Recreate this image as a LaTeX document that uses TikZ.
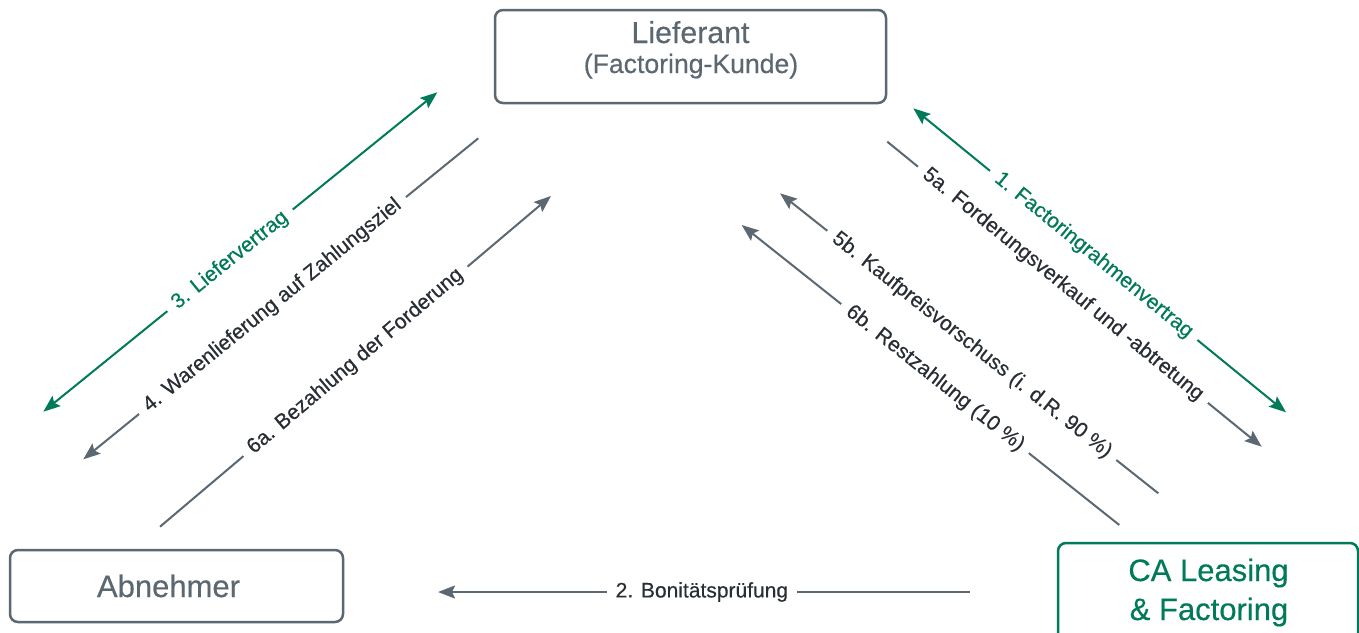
\documentclass[tikz,border=0pt]{standalone}
\usepackage{fontspec}
\setmainfont{Liberation Sans}[FakeBold=0.35]
\usetikzlibrary{arrows.meta}
\definecolor{cgray}{RGB}{91,103,113}
\definecolor{cgreen}{RGB}{0,122,88}
\definecolor{ctext}{RGB}{40,46,52}
\tikzset{mytip/.tip={Stealth[length=8.5pt,width=6.5pt,inset=1.5pt]}}
\begin{document}
\begin{tikzpicture}[x=0.5pt,y=-0.5pt,
  box/.style={draw=cgray, line width=1.25pt, rounded corners=4pt, inner sep=0pt, fill=white},
  gbox/.style={box, draw=cgreen},
  flow/.style={draw=cgray, line width=1pt, -mytip},
  gflow/.style={draw=cgreen, line width=1pt, mytip-mytip},
  lbl/.style={sloped, fill=white, text=ctext, font=\fontsize{10.5}{12}\selectfont, inner xsep=4.5pt, inner ysep=0.5pt},
  glbl/.style={lbl, text=cgreen},
  title/.style={anchor=base, inner sep=0pt},
]
\useasboundingbox (0,0) rectangle (1359,632);
% boxes
\node[box, minimum width=195.5pt, minimum height=46.5pt] (lief) at (690.5,56.5) {};
\node[box, minimum width=166.5pt, minimum height=36pt] (abn) at (176.5,586) {};
\node[gbox, minimum width=150pt, minimum height=68.5pt] (ca) at (1208,611.5) {};
% box texts
\node[title, text=cgray, font=\fontsize{15.15}{18}\selectfont] (liefA) at (690.5,43) {Lieferant};
\node[title, text=cgray, font=\fontsize{13.3}{16}\selectfont] (liefB) at (691,73) {(Factoring-Kunde)};
\node[title, text=cgray, font=\fontsize{15.5}{18}\selectfont] (abnT) at (168.5,597) {Abnehmer};
\node[title, text=cgreen, font=\fontsize{15.5}{18}\selectfont] (caA) at (1208.5,581) {CA Leasing};
\node[title, text=cgreen, font=\fontsize{15.5}{18}\selectfont] (caB) at (1209,620) {\& Factoring};
% connector end points
\coordinate (c3a) at (43.3,411.7);   \coordinate (c3b) at (437.3,92.3);
\coordinate (c4a) at (478.3,138.3);  \coordinate (c4b) at (83.3,459.3);
\coordinate (c6a) at (160,526.7);    \coordinate (c6b) at (551,196);
\coordinate (c1a) at (913.3,108.3);  \coordinate (c1b) at (1286,412.3);
\coordinate (c5a) at (887.3,141.7);  \coordinate (c5b) at (1261.7,446.7);
\coordinate (d5a) at (1158.3,493.3); \coordinate (d5b) at (780,193.3);
\coordinate (d6a) at (1119.3,525);   \coordinate (d6b) at (741.7,225);
\coordinate (b2a) at (970,592);      \coordinate (b2b) at (438,592);
% connectors
\draw[gflow] (c3a) -- node[glbl, pos=0.474] (l3) {3. Liefervertrag} (c3b);
\draw[flow] (c4a) -- node[lbl, pos=0.521] (l4) {4. Warenlieferung auf Zahlungsziel} (c4b);
\draw[flow] (c6a) -- node[lbl, pos=0.5] (l6a) {6a. Bezahlung der Forderung} (c6b);
\draw[gflow] (c1a) -- node[glbl, pos=0.484] (l1) {1. Factoringrahmenvertrag} (c1b);
\draw[flow] (c5a) -- node[lbl, pos=0.469] (l5a) {5a. Forderungsverkauf und -abtretung} (c5b);
\draw[flow] (d5a) -- node[lbl, pos=0.493] (l5b) {5b. Kaufpreisvorschuss (i. d.R. 90 \%)} (d5b);
\draw[flow] (d6a) -- node[lbl, pos=0.488] (l6b) {6b. Restzahlung (10 \%)} (d6b);
\draw[flow] (b2a) -- node[lbl, pos=0.504] (l2) {2. Bonitätsprüfung} (b2b);
\end{tikzpicture}
\end{document}
